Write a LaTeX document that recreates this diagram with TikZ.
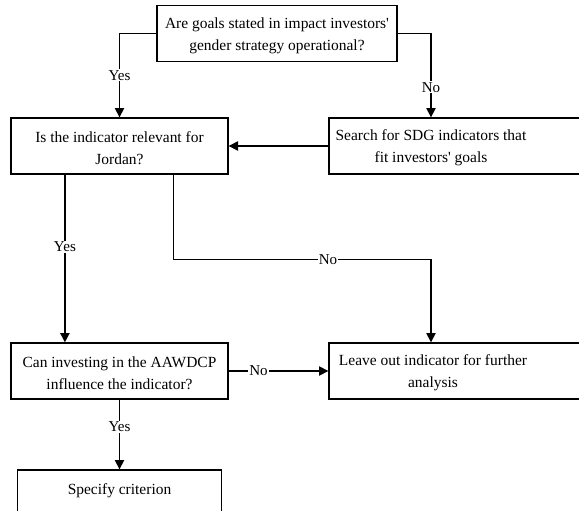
\documentclass[tikz,border=0pt]{standalone}
\usepackage{fontspec}
\setmainfont{Liberation Serif}
\usetikzlibrary{arrows.meta,calc}
\begin{document}
\begin{tikzpicture}[x=0.75pt,y=-0.75pt,
  box/.style={draw, line width=1pt, minimum height=42pt, inner sep=0pt},
  txt/.style={align=center, font=\fontsize{11.6pt}{16.5pt}\selectfont},
  lbl/.style={fill=white, inner sep=0.8pt, font=\fontsize{11.3pt}{12pt}\selectfont},
  arr/.style={line width=1pt, -{Triangle[length=7pt,width=7pt]}},
  ]
\useasboundingbox (0,0) rectangle (579,511);

% decision and action boxes (text placed slightly below the geometric centre)
\node[box, minimum width=180pt] (goals) at (277,33.5) {};
\node[txt] (goalstxt) at (277,35.5)
  {Are goals stated in impact investors\textquotesingle\\gender strategy operational?};
\node[box, minimum width=162.75pt] (rel) at (119.5,146) {};
\node[txt] (reltxt) at (119.5,148)
  {Is the indicator relevant for\\Jordan?};
\node[box, minimum width=195.75pt] (srch) at (459.5,146) {};
\node[txt] (srchtxt) at (431,148)
  {Search for SDG indicators that\\fit investors\textquotesingle\ goals};
\node[box, minimum width=162.75pt] (can) at (119.5,371) {};
\node[txt] (cantxt) at (119.5,373)
  {Can investing in the AAWDCP\\influence the indicator?};
\node[box, minimum width=195.75pt] (leave) at (459.5,371) {};
\node[txt] (leavetxt) at (433,373)
  {Leave out indicator for further\\analysis};
\node[box, minimum width=153pt, minimum height=45pt] (spec) at (119.5,500) {};
\node[txt] (spectxt) at (119.5,491) {Specify criterion};

% connectors
\draw[arr] (goals.west) -| (rel.north)
  node[lbl, pos=0.75] {Yes};
\draw[arr] (goals.east) -| (srchtxt.center |- srch.north)
  node[lbl, pos=0.82] {No};
\draw[arr] (srch.west) -- (rel.east);
\draw[arr] ($(rel.south west)!0.25!(rel.south east)$)
  -- ($(can.north west)!0.25!(can.north east)$)
  node[lbl, pos=0.43] {Yes};
\draw[arr] ($(rel.south west)!0.747!(rel.south east)$) -- ++(0,85)
  -| (srchtxt.center |- leave.north)
  node[lbl, pos=0.3] {No};
\draw[arr] (can.east) -- (leave.west)
  node[lbl, pos=0.3] {No};
\draw[arr] (can.south) -- (can.south |- spec.north)
  node[lbl, pos=0.39] {Yes};
\end{tikzpicture}
\end{document}
